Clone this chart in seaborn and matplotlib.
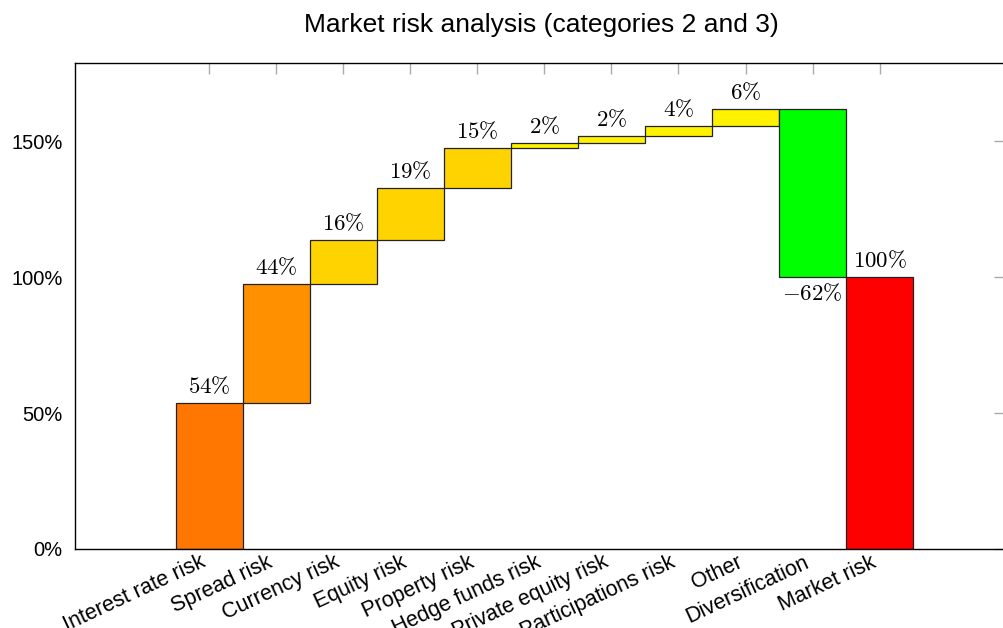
import numpy as np
import pandas as pd
import seaborn as sns
import matplotlib.pyplot as plt

categories = ['Interest rate risk', 'Spread risk', 'Currency risk', 'Equity risk',
              'Property risk', 'Hedge funds risk', 'Private equity risk',
              'Participations risk', 'Other', 'Diversification', 'Market risk']
# contributions in % (last entry is the total, computed below)
deltas = [53.7, 43.6, 16.2, 19.1, 14.7, 2.1, 2.4, 3.9, 6.2, -61.9]
colors = ['#FF7700', '#FF9100', '#FFD300', '#FFD300', '#FFD300',
          '#FFF200', '#FFF200', '#FFF200', '#FFF200', '#00FF00', '#FF0000']
yticks = [0, 50, 100, 150]

# waterfall bases / heights
ends = np.cumsum(deltas)
starts = np.concatenate([[0], ends[:-1]])
total = ends[-1]
bases = list(np.minimum(starts, ends)) + [0]
heights = list(np.abs(deltas)) + [total]
values = deltas + [total]

df = pd.DataFrame({'category': categories, 'height': heights})

sns.set_style('white')
plt.rcParams['font.family'] = ['Liberation Sans', 'DejaVu Sans']
plt.rcParams['mathtext.fontset'] = 'cm'
plt.rcParams['text.color'] = 'black'
plt.rcParams['xtick.labelcolor'] = 'black'
plt.rcParams['ytick.labelcolor'] = 'black'

fig = plt.figure(figsize=(10.04, 6.28), dpi=100)
ax = fig.add_axes([75 / 1004, 1 - 549 / 628, 930 / 1004, 486 / 628])

sns.barplot(data=df, x='category', y='height', hue='category',
            palette=dict(zip(categories, colors)), legend=False, saturation=1,
            width=1.0, edgecolor='#222222', linewidth=0.9, ax=ax)

# move each bar onto its waterfall base
for patch, base in zip(ax.patches, bases):
    patch.set_y(base)

for i, (v, b, h) in enumerate(zip(values, bases, heights)):
    txt = '$%d\\%%$' % round(v) if v >= 0 else '$-%d\\%%$' % round(-v)
    if v >= 0:
        ax.text(i, b + h + 1.8, txt, ha='center', va='bottom', fontsize=16.5)
    else:
        ax.text(i, b - 1.8, txt, ha='center', va='top', fontsize=16.5)

ax.set_xlim(-2, 11.87)
ax.set_ylim(0, 178.7)
ax.set_yticks(yticks)
ax.set_yticklabels(['%d%%' % t for t in yticks])
ax.set_xticks(range(len(categories)))
ax.set_xticklabels(categories, rotation=25, ha='right', va='top')
ax.set_xlabel('')
ax.set_ylabel('')

ax.tick_params(axis='both', direction='in', length=8, width=1, color='#aaaaaa',
               top=True, right=True)
ax.tick_params(axis='x', pad=2, labelsize=15.5)
ax.tick_params(axis='y', pad=9, labelsize=14.5)
for s in ax.spines.values():
    s.set_color('black')
    s.set_linewidth(1)

fig.text(541 / 1004, 1 - 25 / 628, 'Market risk analysis (categories 2 and 3)',
         ha='center', va='center', fontsize=19)

fig.savefig('out.png', dpi=100)
